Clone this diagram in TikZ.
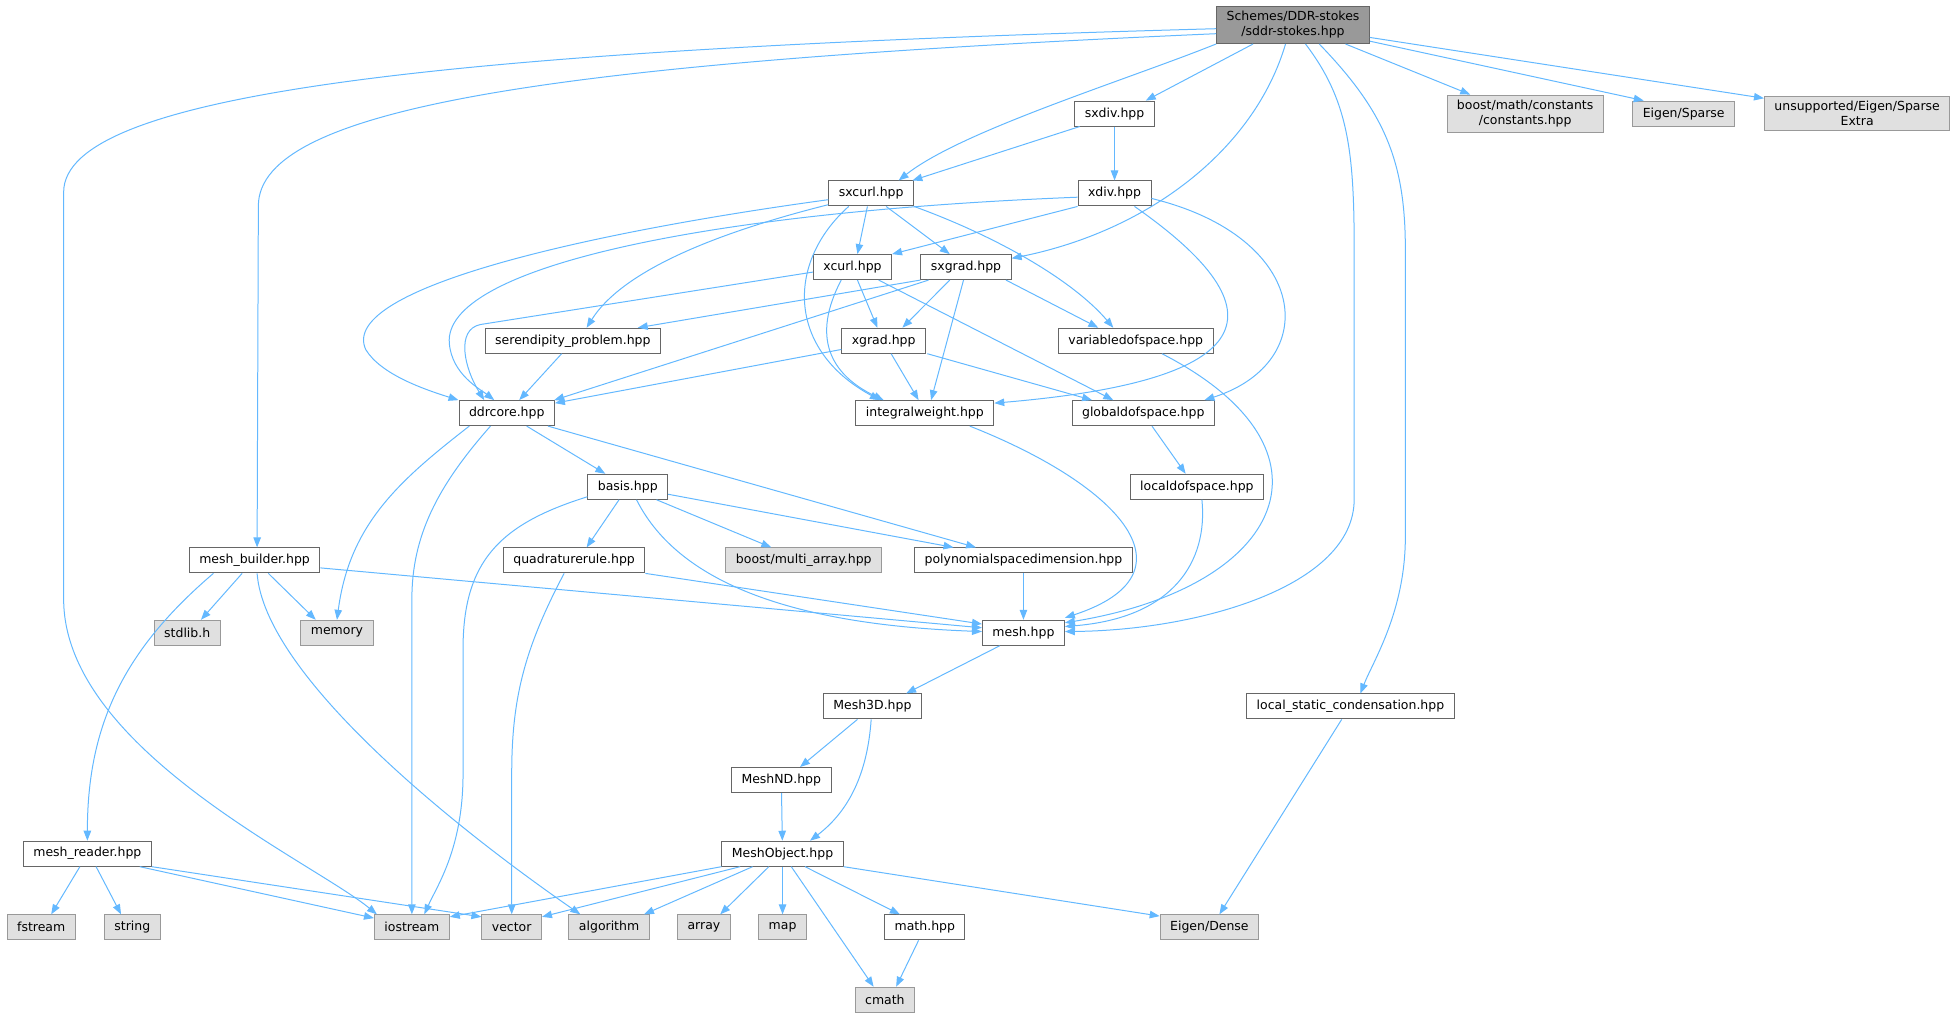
\documentclass[tikz,border=0pt]{standalone}
\usepackage{fontspec}
\setmainfont{DejaVu Sans}
\usetikzlibrary{arrows.meta}
\definecolor{edgeblue}{HTML}{63B8FF}
\definecolor{nodeline}{HTML}{666666}
\definecolor{extline}{HTML}{999999}
\definecolor{extfill}{HTML}{E0E0E0}
\definecolor{rootfill}{HTML}{999999}
\tikzset{
    hfile/.style={draw=nodeline, fill=white, line width=0.8pt,
        inner xsep=8pt, inner ysep=4pt, minimum height=20pt,
        font=\fontsize{10}{12}\selectfont, align=center},
    sysfile/.style={hfile, draw=extline, fill=extfill},
    mainfile/.style={hfile, fill=rootfill},
    incl/.style={draw=edgeblue, line width=0.8pt,
        -{Triangle[length=8pt,width=6pt]}}
}
\begin{document}
\begin{tikzpicture}[x=1pt, y=-1pt]
\useasboundingbox (0,0) rectangle (1568,816.5);
% files of the project
\node[mainfile] (root) at (1036,20) {Schemes/DDR-stokes\\/sddr-stokes.hpp};
\node[hfile] (sxdiv) at (893,91) {sxdiv.hpp};
\node[hfile] (xdiv) at (893,155) {xdiv.hpp};
\node[hfile] (sxcurl) at (698,155) {sxcurl.hpp};
\node[hfile] (xcurl) at (683,214) {xcurl.hpp};
\node[hfile] (sxgrad) at (774,214) {sxgrad.hpp};
\node[hfile] (seren) at (459,273) {serendipity\_problem.hpp};
\node[hfile] (xgrad) at (708,273) {xgrad.hpp};
\node[hfile] (vardof) at (910,273) {variabledofspace.hpp};
\node[hfile] (ddrcore) at (406,331) {ddrcore.hpp};
\node[hfile] (intw) at (741,331) {integralweight.hpp};
\node[hfile] (globdof) at (916,331) {globaldofspace.hpp};
\node[hfile] (locdof) at (959,390) {localdofspace.hpp};
\node[hfile] (basis) at (503,390) {basis.hpp};
\node[hfile] (meshb) at (204,449) {mesh\_builder.hpp};
\node[hfile] (quad) at (460,449) {quadraturerule.hpp};
\node[hfile] (polydim) at (820,449) {polynomialspacedimension.hpp};
\node[hfile] (mesh) at (820,507) {mesh.hpp};
\node[hfile] (mesh3d) at (699,566) {Mesh3D.hpp};
\node[hfile] (lsc) at (1082,566) {local\_static\_condensation.hpp};
\node[hfile] (meshnd) at (626,625) {MeshND.hpp};
\node[hfile] (meshr) at (70,684) {mesh\_reader.hpp};
\node[hfile] (meshobj) at (627,684) {MeshObject.hpp};
\node[hfile] (math) at (741,743) {math.hpp};
% system and external headers
\node[sysfile] (bmc) at (1222,91) {boost/math/constants\\/constants.hpp};
\node[sysfile] (esparse) at (1349,91) {Eigen/Sparse};
\node[sysfile] (unsup) at (1488,91) {unsupported/Eigen/Sparse\\Extra};
\node[sysfile] (multiarr) at (644,449) {boost/multi\_array.hpp};
\node[sysfile] (stdlib) at (150,507) {stdlib.h};
\node[sysfile] (memory) at (270,507) {memory};
\foreach\n/\x in{fstream/33, string/106, iostream/330, vector/410,
    algorithm/488, array/564, map/627}{
    \node[sysfile] (\n) at (\x,743) {\n};
}
\node[sysfile] (edense) at (969,743) {Eigen/Dense};
\node[sysfile] (cmath) at (709,801) {cmath};

% includes of the main file
\draw[incl] ([yshift=-3pt]root.west) .. controls (350,40) and (51,75) .. (51,154)
    -- (51,480) .. controls (51,600) and (250,690) .. ([xshift=-28pt]iostream.north);
\draw[incl] ([yshift=-7pt]root.west) .. controls (450,50) and (207,85) .. (207,165)
    -- ([xshift=2pt]meshb.north);
\draw[incl] (root.south west) .. controls (900,65) and (770,105) .. ([xshift=22pt]sxcurl.north);
\draw[incl] ([xshift=-32pt]root.south) -- ([xshift=25pt]sxdiv.north);
\draw[incl] ([xshift=-6pt]root.south) .. controls (1005,120) and (920,185) .. ([yshift=7pt]sxgrad.east);
\draw[incl] ([xshift=10pt]root.south) .. controls (1080,80) and (1085,120) .. (1085,200)
    -- (1085,400) .. controls (1085,470) and (960,505) .. ([yshift=1pt]mesh.east);
\draw[incl] ([xshift=21pt]root.south) .. controls (1110,90) and (1126,130) .. (1126,200)
    -- (1126,430) .. controls (1126,490) and (1100,530) .. ([xshift=8pt]lsc.north);
\draw[incl] ([xshift=42pt]root.south) -- ([xshift=-44pt]bmc.north);
\draw[incl] ([yshift=-13pt]root.east) -- ([xshift=-32pt]esparse.north);
\draw[incl] ([yshift=-10pt]root.east) -- ([yshift=-2pt]unsup.north west);

% sxdiv, xdiv, sxcurl
\draw[incl] ([xshift=-28pt]sxdiv.south) -- ([xshift=33pt]sxcurl.north);
\draw[incl] (sxdiv) -- (xdiv);
\draw[incl] ([yshift=-3pt]xdiv.west) .. controls (560,170) and (355,215) .. (360,275)
    .. controls (362,300) and (385,312) .. ([xshift=-10pt]ddrcore.north);
\draw[incl] (xdiv.south west) -- (xcurl.north east);
\draw[incl] ([xshift=16pt]xdiv.south) .. controls (1030,250) and (1010,305) .. ([yshift=8pt]intw.east);
\draw[incl] ([yshift=-4pt]xdiv.east) .. controls (1050,190) and (1060,290) .. ([xshift=49pt]globdof.north);
\draw[incl] ([yshift=-5pt]sxcurl.west) .. controls (480,185) and (270,230) .. (293,280)
    .. controls (305,300) and (340,312) .. (ddrcore.north west);
\draw[incl] ([yshift=-9pt]sxcurl.west) .. controls (580,185) and (500,215) .. ([xshift=11pt]seren.north);
\draw[incl] ([xshift=-18pt]sxcurl.south) .. controls (630,210) and (630,280) .. ([xshift=-36pt]intw.north);
\draw[incl] ([xshift=-3pt]sxcurl.south) -- ([xshift=4pt]xcurl.north);
\draw[incl] ([xshift=12pt]sxcurl.south) -- ([xshift=-13pt]sxgrad.north);
\draw[incl] (sxcurl.south east) .. controls (800,190) and (860,225) .. ([xshift=-18pt]vardof.north);

% xcurl, sxgrad, xgrad
\draw[incl] ([yshift=-4pt]xcurl.west) -- (385,260) .. controls (365,264) and (372,295)
    .. ([xshift=-18pt]ddrcore.north);
\draw[incl] ([xshift=-9pt]xcurl.south) .. controls (650,270) and (665,300) .. ([xshift=-33pt]intw.north);
\draw[incl] ([xshift=4pt]xcurl.south) -- ([xshift=-5pt]xgrad.north);
\draw[incl] ([xshift=21pt]xcurl.south) -- ([xshift=-24pt]globdof.north);
\draw[incl] (sxgrad.south west) -- ([xshift=52pt]seren.north);
\draw[incl] ([xshift=-30pt]sxgrad.south) -- ([xshift=38pt]ddrcore.north);
\draw[incl] ([xshift=-13pt]sxgrad.south) -- ([xshift=15pt]xgrad.north);
\draw[incl] ([xshift=-2pt]sxgrad.south) -- ([xshift=5pt]intw.north);
\draw[incl] ([xshift=32pt]sxgrad.south) -- ([xshift=-30pt]vardof.north);
\draw[incl] ([xshift=-9pt]seren.south) -- ([xshift=10pt]ddrcore.north);
\draw[incl] ([yshift=-7pt]xgrad.west) -- ([yshift=8pt]ddrcore.east);
\draw[incl] ([xshift=6pt]xgrad.south) -- ([xshift=-5pt]intw.north);
\draw[incl] ([xshift=35pt]xgrad.south) -- ([xshift=-41pt]globdof.north);

% towards mesh.hpp
\draw[incl] ([xshift=21pt]vardof.south) .. controls (1080,360) and (1030,470) .. ([yshift=8pt]mesh.east);
\draw[incl] ([xshift=36pt]intw.south) .. controls (900,390) and (960,460) .. ([yshift=12pt]mesh.east);
\draw[incl] ([xshift=4pt]locdof.south) .. controls (968,450) and (940,495) .. ([yshift=5pt]mesh.east);
\draw[incl] ([xshift=7pt]globdof.south) -- ([xshift=-9pt]locdof.north);

% ddrcore and basis
\draw[incl] ([xshift=16pt]ddrcore.south) -- ([xshift=-18pt]basis.north);
\draw[incl] ([xshift=33pt]ddrcore.south) -- ([xshift=-38pt]polydim.north);
\draw[incl] ([xshift=-30pt]ddrcore.south) .. controls (320,385) and (280,420) .. (memory.north);
\draw[incl] ([xshift=-13pt]ddrcore.south) .. controls (350,390) and (330,430) .. (330,480)
    -- (iostream.north);
\draw[incl] ([xshift=-7pt]basis.south) -- ([xshift=10pt]quad.north);
\draw[incl] ([xshift=23pt]basis.south) -- ([xshift=-26pt]multiarr.north);
\draw[incl] ([yshift=-6pt]basis.east) -- ([xshift=-56pt]polydim.north);
\draw[incl] ([xshift=7pt]basis.south) .. controls (540,460) and (620,500) .. ([yshift=1pt]mesh.west);
\draw[incl] ([yshift=-8pt]basis.west) .. controls (400,420) and (371,450) .. (371,520)
    -- (371,620) .. controls (371,680) and (350,710) .. ([xshift=10pt]iostream.north);
\draw[incl] (quad.south east) -- ([yshift=7pt]mesh.west);
\draw[incl] ([xshift=-8pt]quad.south) .. controls (420,520) and (410,560) .. (410,620)
    -- (vector.north);
\draw[incl] (polydim) -- (mesh);

% mesh_builder
\draw[incl] ([yshift=-6pt]meshb.east) -- ([yshift=4pt]mesh.west);
\draw[incl] ([xshift=-10pt]meshb.south) -- ([xshift=11pt]stdlib.north);
\draw[incl] ([xshift=11pt]meshb.south) -- ([xshift=-17pt]memory.north);
\draw[incl] ([xshift=2pt]meshb.south) .. controls (212,540) and (360,660) .. ([xshift=-23pt]algorithm.north);
\draw[incl] ([xshift=-33pt]meshb.south) .. controls (100,520) and (70,580) .. (meshr.north);

% mesh classes
\draw[incl] ([xshift=-19pt]mesh.south) -- ([xshift=27pt]mesh3d.north);
\draw[incl] ([xshift=-12pt]mesh3d.south) -- ([xshift=15pt]meshnd.north);
\draw[incl] ([xshift=-1pt]mesh3d.south) .. controls (695,620) and (680,650) .. ([xshift=22pt]meshobj.north);
\draw[incl] (meshnd) -- (meshobj);
\draw[incl] ([xshift=-6pt]meshr.south) -- ([xshift=8pt]fstream.north);
\draw[incl] ([xshift=7pt]meshr.south) -- ([xshift=-9pt]string.north);
\draw[incl] ([xshift=42pt]meshr.south) -- ([yshift=-3pt]iostream.north west);
\draw[incl] (meshr.south east) -- ([yshift=-2pt]vector.north west);
\draw[incl] (meshobj.south west) -- ([yshift=-2pt]iostream.north east);
\draw[incl] ([xshift=-34pt]meshobj.south) -- ([yshift=-2pt]vector.north east);
\draw[incl] ([xshift=-24pt]meshobj.south) -- ([xshift=28pt]algorithm.north);
\draw[incl] ([xshift=-11pt]meshobj.south) -- ([xshift=13pt]array.north);
\draw[incl] (meshobj) -- (map);
\draw[incl] ([xshift=7pt]meshobj.south) -- ([xshift=-9pt]cmath.north);
\draw[incl] ([xshift=18pt]meshobj.south) -- ([xshift=-20pt]math.north);
\draw[incl] (meshobj.south east) -- ([yshift=9pt]edense.west);
\draw[incl] ([xshift=-5pt]math.south) -- ([xshift=9pt]cmath.north);
\draw[incl] ([xshift=-7pt]lsc.south) -- ([xshift=8pt]edense.north);
\end{tikzpicture}
\end{document}
